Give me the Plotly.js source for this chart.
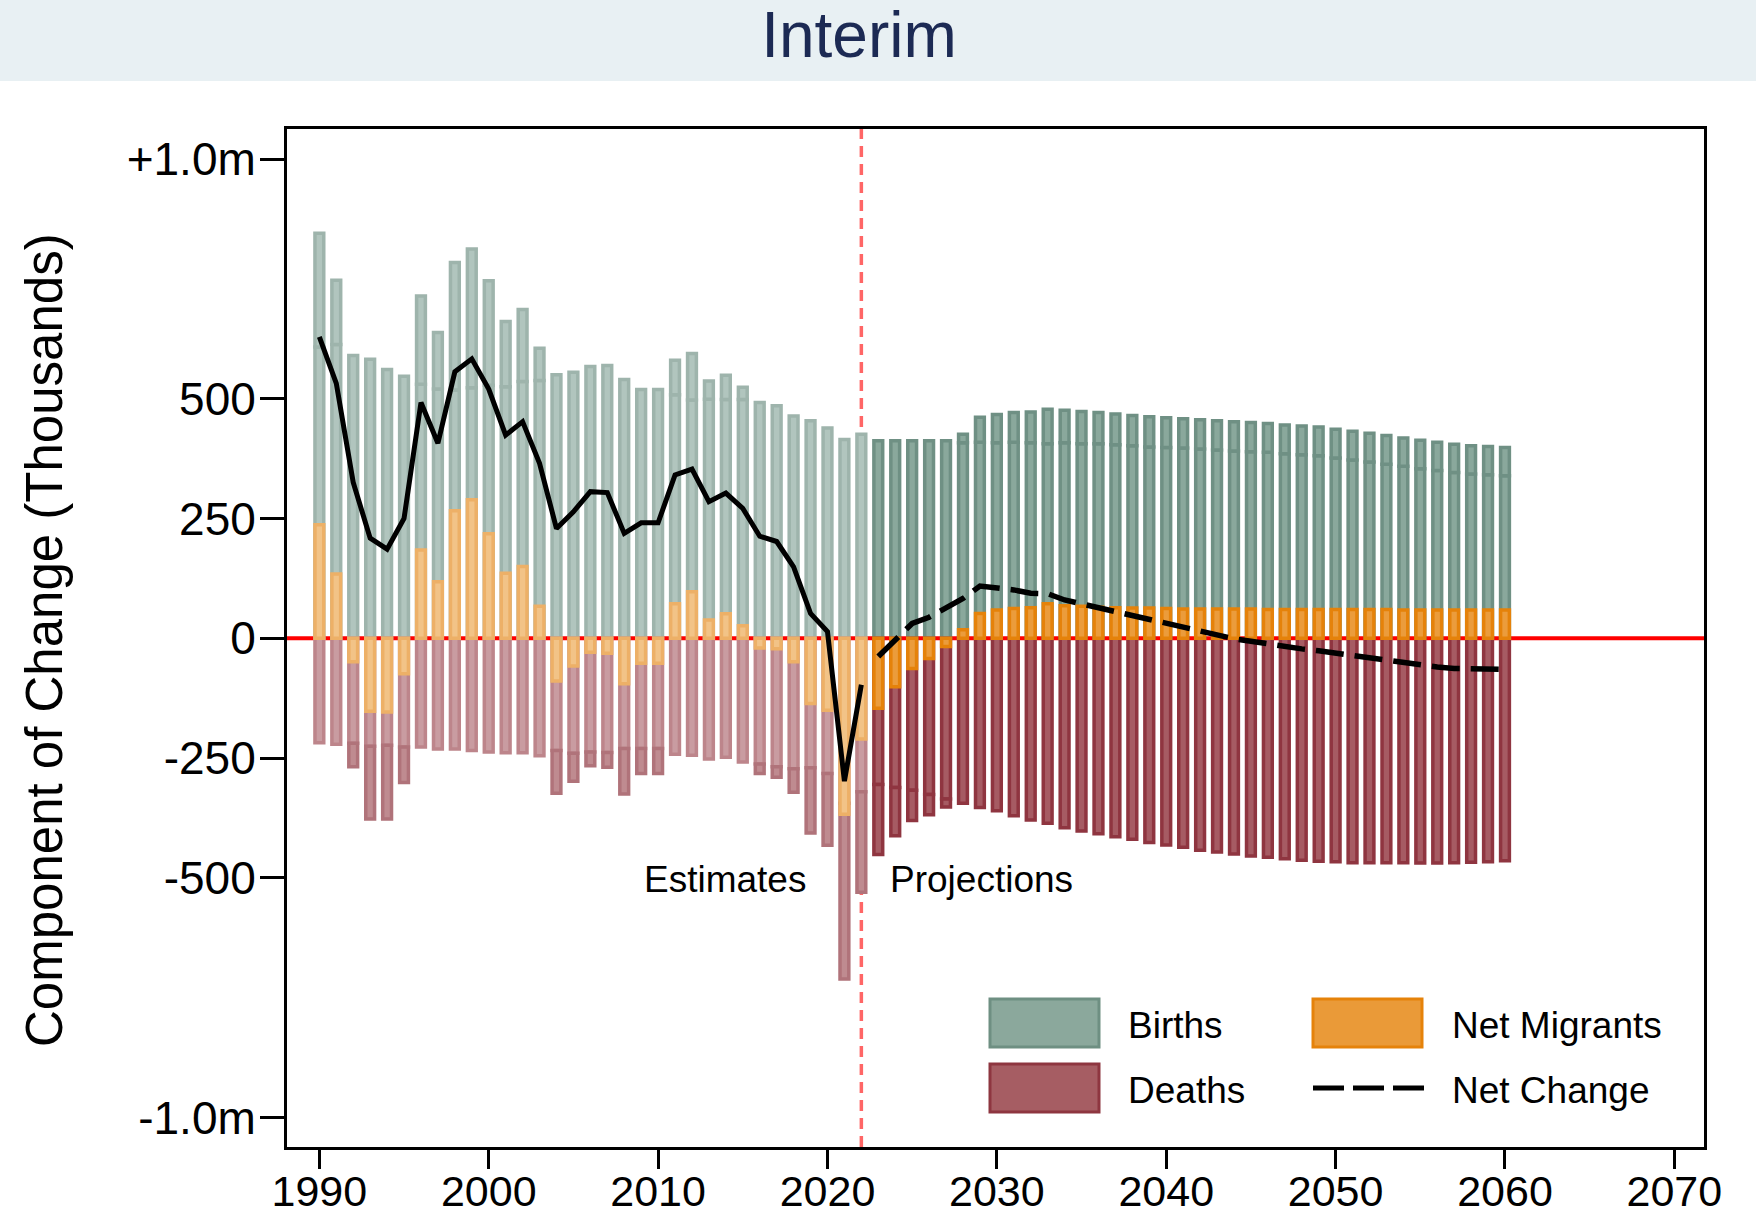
<!DOCTYPE html>
<html>
<head>
<meta charset="utf-8">
<script src="https://cdn.plot.ly/plotly-3.0.1.min.js"></script>
<style>html,body{margin:0;padding:0;background:#fff;}#chart{width:1760px;height:1218px;}</style>
</head>
<body>
<div id="chart"></div>
<script>
// ---- data (thousands) ----
const years = [1990,1991,1992,1993,1994,1995,1996,1997,1998,1999,2000,2001,2002,2003,2004,2005,2006,2007,2008,2009,2010,2011,2012,2013,2014,2015,2016,2017,2018,2019,2020,2021,2022,
  2023,2024,2025,2026,2027,2028,2029,2030,2031,2032,2033,2034,2035,2036,2037,2038,2039,2040,2041,2042,2043,2044,2045,2046,2047,2048,2049,2050,2051,2052,2053,2054,2055,2056,2057,2058,2059,2060];
const births = [608,613,590,582,561,547,530,520,518,523,528,525,536,538,550,555,567,569,540,519,519,508,497,499,498,498,492,485,464,454,439,415,426,
  412,412,412,412,412,408,409,408,409,408,406,408,406,406,404,402,399,398,397,395,393,391,389,388,385,383,381,376,372,368,363,359,354,350,346,343,341,339];
const deaths = [-218,-221,-219,-225,-223,-227,-227,-231,-231,-234,-237,-239,-239,-245,-234,-240,-237,-238,-230,-230,-230,-242,-244,-252,-248,-258,-262,-268,-272,-270,-282,-344,-320,
  -305,-311,-317,-326,-335,-344,-353,-360,-370,-379,-386,-395,-402,-408,-414,-419,-426,-431,-436,-442,-446,-450,-454,-457,-460,-463,-465,-466,-468,-468,-468,-468,-469,-469,-468,-467,-466,-464];
const netMigrants = [237,134,-49,-152,-154,-74,184,118,266,289,218,136,150,67,-89,-58,-29,-31,-95,-52,-52,72,97,38,51,26,-20,-22,-49,-136,-150,-367,-210,
  -146,-101,-63,-42,-17,18,52,59,62,64,72,68,67,65,64,63,63,62,61,61,61,61,61,60,60,60,60,60,60,60,60,59,59,59,59,59,59,59];
const netChange = [629,532,325,209,186,250,492,407,556,583,520,424,452,365,229,264,306,304,219,241,241,341,353,285,303,271,213,202,149,52,14,-298,-97,
  -38,-2,31,44,64,83,109,106,101,94,93,80,72,64,56,47,40,31,22,15,7,-1,-6,-12,-18,-22,-26,-31,-37,-42,-46,-52,-56,-60,-63,-64,-65,-65];
const lastEstimateYear = 2022;
const yTickVals = [-1000,-500,-250,0,250,500,1000];
const yTickText = ['-1.0m','-500','-250','0','250','500','+1.0m'];
const xTickVals = [1990,2000,2010,2020,2030,2040,2050,2060,2070];
const seriesNames = ['Births','Deaths','Net Migrants','Net Change'];

// ---- styling ----
const FONT = 'Arial, "Liberation Sans", Helvetica, sans-serif';
const C = {
  birthsEst: ['#b1c5be', '#9eb4ac'], birthsProj: ['#8aa89c', '#6f9084'],
  migEst: ['#f2c387', '#edb067'], migProj: ['#eb9c3c', '#e5820a'],
  deathsEst: ['#c99ca1', '#bd858b'], deathsExtEst: ['#bf8b90', '#b0737a'], deathsProj: ['#a65b63', '#8f3540']
};
const isEst = years.map(y => y <= lastEstimateYear);
const pick = (est, proj, k) => isEst.map(e => (e ? est : proj)[k]);
const BW = 0.52, LW = 3.5;

function barTrace(y, base, est, proj) {
  return {
    type: 'bar', x: years, y: y, base: base, width: BW,
    marker: { color: pick(est, proj, 0), line: { color: pick(est, proj, 1), width: LW } },
    hoverinfo: 'skip', showlegend: false
  };
}

const traces = [
  barTrace(births, 0, C.birthsEst, C.birthsProj),
  barTrace(netMigrants.map(m => m > 0 ? m : null), births, C.birthsEst, C.birthsProj),
  barTrace(deaths, 0, C.deathsEst, C.deathsProj),
  barTrace(netMigrants.map(m => m < 0 ? m : null), deaths, C.deathsExtEst, C.deathsProj),
  barTrace(netMigrants, 0, C.migEst, C.migProj),
  {
    type: 'scatter', mode: 'lines',
    x: years.filter((y, i) => isEst[i]), y: netChange.filter((v, i) => isEst[i]),
    line: { color: '#000', width: 5 }, hoverinfo: 'skip', showlegend: false
  },
  {
    type: 'scatter', mode: 'lines',
    x: years.filter((y, i) => !isEst[i]), y: netChange.filter((v, i) => !isEst[i]),
    line: { color: '#000', width: 5.5, dash: '28px,11px' }, hoverinfo: 'skip', showlegend: false
  }
];

// pixel -> paper helpers
const PL = 287, PR = 1704, PT = 129, PB = 1147;
const px = X => (X - PL) / (PR - PL);
const py = Y => (PB - Y) / (PB - PT);

const shapes = [
  // title band
  { type: 'rect', xref: 'paper', yref: 'paper', x0: px(0), x1: px(1756), y0: py(81), y1: py(0),
    fillcolor: '#e8f0f3', line: { width: 0 }, layer: 'below' },
  // zero line
  { type: 'line', xref: 'paper', yref: 'y', x0: 0, x1: 1, y0: 0, y1: 0,
    line: { color: '#ff0000', width: 4 }, layer: 'below' },
  // estimates / projections divider
  { type: 'line', xref: 'x', yref: 'paper', x0: lastEstimateYear, x1: lastEstimateYear, y0: 0, y1: 1,
    line: { color: '#ff6666', width: 3.5, dash: '11px,7px' }, layer: 'below' },
  // legend swatches
  { type: 'rect', xref: 'paper', yref: 'paper', x0: px(990), x1: px(1099), y0: py(1047), y1: py(999),
    fillcolor: '#8ba89c', line: { color: '#6e8f82', width: 3 } },
  { type: 'rect', xref: 'paper', yref: 'paper', x0: px(990), x1: px(1099), y0: py(1112), y1: py(1064),
    fillcolor: '#a65d63', line: { color: '#8e3640', width: 3 } },
  { type: 'rect', xref: 'paper', yref: 'paper', x0: px(1313), x1: px(1422), y0: py(1047), y1: py(999),
    fillcolor: '#ea9a38', line: { color: '#e5820a', width: 3 } },
  { type: 'line', xref: 'paper', yref: 'paper', x0: px(1313), x1: px(1424), y0: py(1088), y1: py(1088),
    line: { color: '#000', width: 5, dash: '31px,9px' } }
];

const legFont = { family: FONT, size: 37, color: '#000' };
const annotations = [
  { xref: 'paper', yref: 'paper', x: px(1126), y: py(1025), text: seriesNames[0], showarrow: false, xanchor: 'left', yanchor: 'middle', font: legFont },
  { xref: 'paper', yref: 'paper', x: px(1126), y: py(1090), text: seriesNames[1], showarrow: false, xanchor: 'left', yanchor: 'middle', font: legFont },
  { xref: 'paper', yref: 'paper', x: px(1450), y: py(1025), text: seriesNames[2], showarrow: false, xanchor: 'left', yanchor: 'middle', font: legFont },
  { xref: 'paper', yref: 'paper', x: px(1450), y: py(1090), text: seriesNames[3], showarrow: false, xanchor: 'left', yanchor: 'middle', font: legFont },
  { xref: 'x', yref: 'y', x: lastEstimateYear, y: -500, xshift: -53, yshift: -2, text: 'Estimates', showarrow: false, xanchor: 'right', yanchor: 'middle', font: legFont },
  { xref: 'x', yref: 'y', x: lastEstimateYear, y: -500, xshift: 27, yshift: -2, text: 'Projections', showarrow: false, xanchor: 'left', yanchor: 'middle', font: legFont },
  { xref: 'paper', yref: 'paper', x: px(44), y: py(640), text: 'Component of Change (Thousands)', textangle: -90,
    showarrow: false, xanchor: 'center', yanchor: 'middle', font: { family: FONT, size: 51, color: '#000' } }
];

const layout = {
  width: 1760, height: 1218,
  margin: { l: PL, r: 1760 - PR, t: PT, b: 1218 - PB, pad: 0 },
  paper_bgcolor: '#ffffff', plot_bgcolor: '#ffffff',
  barmode: 'overlay', bargap: 0,
  showlegend: false,
  font: { family: FONT, color: '#000' },
  title: { text: 'Interim', font: { family: FONT, size: 64, color: '#1c2a54' },
    xref: 'container', x: 859 / 1760, xanchor: 'center', yref: 'container', y: 1 - 35 / 1218, yanchor: 'middle' },
  xaxis: {
    range: [1988.09, 2071.75], tickmode: 'array', tickvals: xTickVals,
    ticks: 'outside', ticklen: 19, tickwidth: 3, tickcolor: '#000', ticklabelstandoff: -15,
    showline: true, linecolor: '#000', linewidth: 3, mirror: true,
    showgrid: false, zeroline: false, tickfont: { family: FONT, size: 43, color: '#000' }
  },
  yaxis: {
    range: [-1061.3, 1062.6], tickmode: 'array', tickvals: yTickVals, ticktext: yTickText,
    ticks: 'outside', ticklen: 24, tickwidth: 3, tickcolor: '#000', ticklabelstandoff: -5,
    showline: true, linecolor: '#000', linewidth: 3, mirror: true,
    showgrid: false, zeroline: false, tickfont: { family: FONT, size: 46, color: '#000' }
  },
  shapes: shapes,
  annotations: annotations
};

Plotly.newPlot('chart', traces, layout, { displayModeBar: false, staticPlot: true });
</script>
</body>
</html>
